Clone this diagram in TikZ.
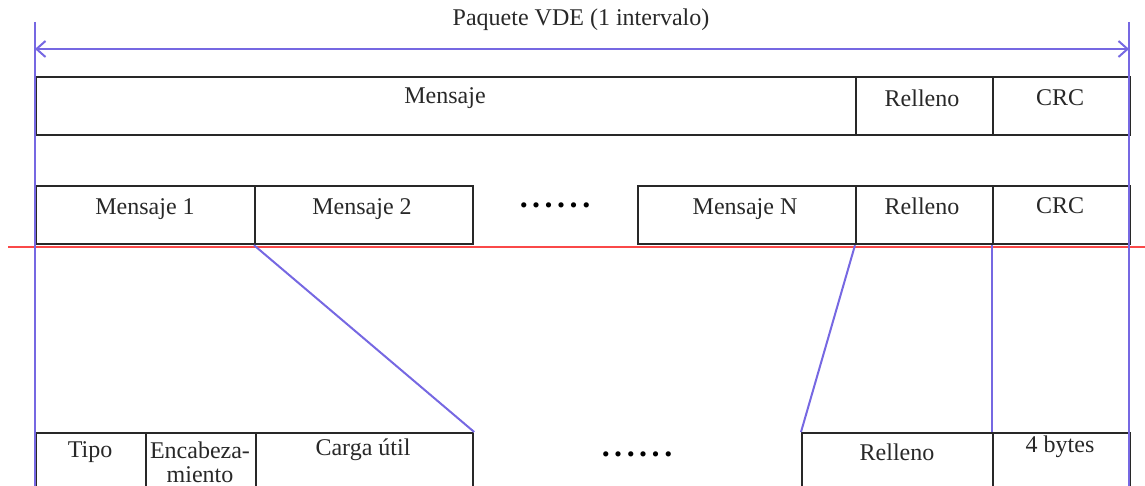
\documentclass[tikz,border=0pt]{standalone}
\usepackage{fontspec}
\setmainfont{Liberation Serif}
\usetikzlibrary{arrows.meta}
\definecolor{guide}{RGB}{118,104,226}
\definecolor{cut}{RGB}{250,72,72}
\definecolor{ink}{RGB}{40,40,40}
\tikzset{
  field/.style={draw=ink, line width=2.2pt, rectangle, inner sep=0pt, anchor=north west},
  lbl/.style={font=\fontsize{24}{27}\selectfont, inner sep=0pt, text=ink, align=center},
  guideline/.style={draw=guide, line width=2pt},
  cutline/.style={draw=cut, line width=2.4pt},
  dots/.style={font=\fontsize{32}{34}\selectfont\bfseries, inner sep=0pt, text=black},
}
\newcommand{\sixdots}{.\hspace{4.5pt}.\hspace{4.5pt}.\hspace{4.5pt}.\hspace{4.5pt}.\hspace{4.5pt}.}
\begin{document}
\begin{tikzpicture}[x=1pt,y=-1pt]
\useasboundingbox (0,0) rectangle (1145,486);
\clip (0,0) rectangle (1145,486);

% row 1: whole packet
\node[field, minimum width=820, minimum height=58] (msg)  at (35,76)  {};
\node[field, minimum width=137, minimum height=58] (pad1) at (855,76) {};
\node[field, minimum width=137, minimum height=58] (crc1) at (992,76) {};

% row 2: individual messages
\node[field, minimum width=219, minimum height=58] (m1)   at (35,185)  {};
\node[field, minimum width=218, minimum height=58] (m2)   at (254,185) {};
\node[field, minimum width=218, minimum height=58] (mN)   at (637,185) {};
\node[field, minimum width=137, minimum height=58] (pad2) at (855,185) {};
\node[field, minimum width=137, minimum height=58] (crc2) at (992,185) {};

% row 3: message structure (continues past the lower edge)
\node[field, minimum width=110, minimum height=80] (tipo)  at (35,432)  {};
\node[field, minimum width=110, minimum height=80] (head)  at (145,432) {};
\node[field, minimum width=217, minimum height=80] (load)  at (255,432) {};
\node[field, minimum width=191, minimum height=80] (pad3)  at (801,432) {};
\node[field, minimum width=137, minimum height=80] (bytes) at (992,432) {};

% labels
\node[lbl] (title) at (581,20) {Paquete VDE (1 intervalo)};
\node[lbl] (tmsg)  at (445,98) {Mensaje};
\node[lbl] (tpad1) at (922,98) {Relleno};
\node[lbl] (tcrc1) at (1060,98) {CRC};

\node[lbl] (tm1)   at (145,209) {Mensaje 1};
\node[lbl] (tm2)   at (362,209) {Mensaje 2};
\node[dots] (d1)   at (555,205) {\sixdots};
\node[lbl] (tmN)   at (745,209) {Mensaje N};
\node[lbl] (tpad2) at (922,206) {Relleno};
\node[lbl] (tcrc2) at (1060,206) {CRC};

\node[lbl] (ttipo) at (90,452) {Tipo};
\node[lbl, font=\fontsize{24}{24.5}\selectfont] (thead) at (200,462.5) {Encabeza-\\miento};
\node[lbl] (tload) at (363,450) {Carga útil};
\node[dots] (d2)   at (637,454) {\sixdots};
\node[lbl] (tpad3) at (897,452) {Relleno};
\node[lbl] (tbyte) at (1060,447) {4 bytes};

% cut line
\coordinate (cutL) at (8,247);
\coordinate (cutR) at (1145,247);
\draw[cutline] (cutL) -- (cutR);

% expansion guides
\draw[guideline] (m2.south west) -- (load.north east);
\draw[guideline] (pad2.south west) -- (pad3.north west);
\draw[guideline] (crc2.south west) -- (bytes.north west);

% outer guides and packet length arrow
\coordinate (lt) at (35,22);
\coordinate (lb) at (35,486);
\coordinate (rt) at (1129,22);
\coordinate (rb) at (1129,486);
\coordinate (aL) at (35,49);
\coordinate (aR) at (1129,49);
\draw[guideline] (lt) -- (lb);
\draw[guideline] (rt) -- (rb);
\draw[guideline, {Straight Barb[length=9pt,width=16pt]}-{Straight Barb[length=9pt,width=16pt]}] (aL) -- (aR);
\end{tikzpicture}
\end{document}
